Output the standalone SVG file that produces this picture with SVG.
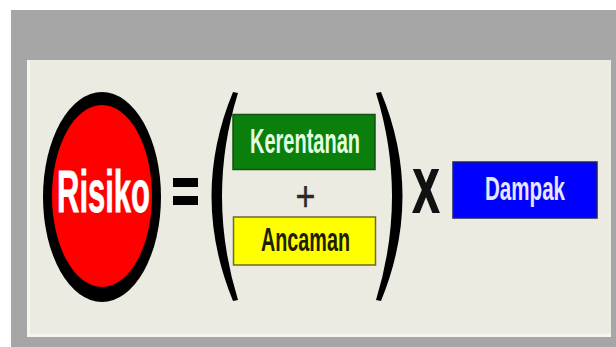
<svg xmlns="http://www.w3.org/2000/svg" width="616" height="347" viewBox="0 0 616 347">
<style>
.t{font-family:"Liberation Sans",Arial,sans-serif;font-weight:bold;text-anchor:middle}
.box{stroke-width:1.5}
</style>
<rect width="616" height="347" fill="#ffffff"/>
<rect x="11" y="10" width="605" height="337" fill="#a6a6a6"/>
<rect x="27" y="60" width="584" height="277" fill="#ecebe2"/>
<rect x="27" y="60" width="3" height="277" fill="#f6f5ef"/>
<rect x="27" y="334" width="584" height="3" fill="#f6f5ef"/>
<g id="risiko">
<ellipse cx="102" cy="197" rx="59" ry="105" fill="#000000"/>
<ellipse cx="102" cy="196" rx="50" ry="91" fill="#fe0000"/>
<text class="t" x="103.5" y="212" font-size="59" fill="#ffffff" stroke="#ffffff" stroke-width="0.8" textLength="93" lengthAdjust="spacingAndGlyphs">Risiko</text>
</g>
<g id="equals">
<rect x="173" y="178" width="25" height="9" fill="#000000"/>
<rect x="173" y="196" width="25" height="9" fill="#000000"/>
</g>
<g id="paren-left">
<path d="M233,92 L238,93 Q206,196 238,300 L233,301 Q190,196 233,92 Z" fill="#000000"/>
</g>
<g id="kerentanan">
<rect class="box" x="233" y="114.5" width="142" height="55" fill="#0b7f0b" stroke="#145214"/>
<text class="t" x="305" y="153" font-size="35" fill="#e2ffe2" textLength="110" lengthAdjust="spacingAndGlyphs">Kerentanan</text>
</g>
<g id="plus">
<text x="305.5" y="211" font-family="Liberation Sans, Arial, sans-serif" font-size="43" text-anchor="middle" fill="#2a2a2a" stroke="#2a2a2a" stroke-width="0.4" textLength="20" lengthAdjust="spacingAndGlyphs">+</text>
</g>
<g id="ancaman">
<rect class="box" x="233.5" y="217" width="142" height="48" fill="#ffff00" stroke="#6b6b2a"/>
<text class="t" x="305.5" y="251" font-size="34" fill="#1e1e00" textLength="89" lengthAdjust="spacingAndGlyphs">Ancaman</text>
</g>
<g id="paren-right">
<path d="M381,92 L376,93 Q408,196 376,300 L381,301 Q424,196 381,92 Z" fill="#000000"/>
</g>
<g id="times">
<text class="t" x="426" y="212" font-size="62" fill="#111111" stroke="#111111" stroke-width="2.2" textLength="26" lengthAdjust="spacingAndGlyphs">X</text>
</g>
<g id="dampak">
<rect class="box" x="453" y="162" width="144" height="56" fill="#0000fe" stroke="#202060"/>
<text class="t" x="525" y="200" font-size="34" fill="#e6e6ff" textLength="80" lengthAdjust="spacingAndGlyphs">Dampak</text>
</g>
<g id="connectors"></g>
</svg>
